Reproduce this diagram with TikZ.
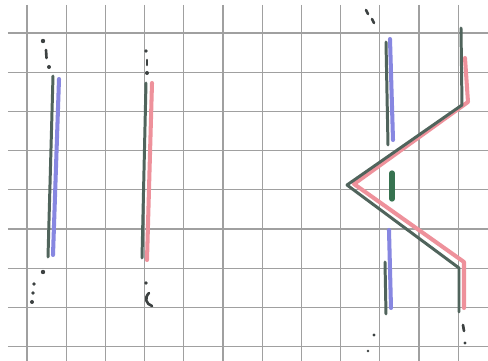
\documentclass[tikz,border=0pt]{standalone}
\begin{document}
\begin{tikzpicture}[x=0.02cm,y=-0.02cm,
  gridline/.style={draw={rgb,255:red,160;green,160;blue,160},line width=0.7pt},
  bluestroke/.style={draw={rgb,255:red,135;green,135;blue,225},line width=2.3pt,line cap=round},
  redstroke/.style={draw={rgb,255:red,238;green,145;blue,155},line width=2.3pt,line cap=round,line join=round},
  darkstroke/.style={draw={rgb,255:red,80;green,100;blue,92},line width=1.7pt,line cap=round,line join=round},
  greenbar/.style={draw={rgb,255:red,55;green,115;blue,80},line width=3pt,line cap=round},
  dotmark/.style={fill={rgb,255:red,60;green,65;blue,65}},
  dashmark/.style={draw={rgb,255:red,60;green,65;blue,65},line width=1.5pt,line cap=round}]
\useasboundingbox (0,0) rectangle (488,361);
\fill[white] (0,0) rectangle (488,361);
% grid paper
\foreach \i in {0,...,11} \draw[gridline] ({27+39.2*\i},5) -- ({27+39.2*\i},361);
\foreach \j in {0,...,8} \draw[gridline] (8,{33+39.2*\j}) -- (488,{33+39.2*\j});
% left pair
\draw[bluestroke] (59,79) -- (53,255);
\draw[darkstroke] (53,76) -- (48,257);
\fill[dotmark] (43,41) circle (2.2);
\draw[dashmark] (46,50) -- (46.5,58);
\fill[dotmark] (49,67) circle (2);
\fill[dotmark] (43,272) circle (2.2);
\fill[dotmark] (34,284) circle (1.8);
\fill[dotmark] (33,293) circle (1.8);
\fill[dotmark] (32,302) circle (2);
% middle pair
\draw[redstroke] (152,83) -- (147,260);
\draw[darkstroke] (146,83) -- (142,258);
\fill[dotmark] (146,51) circle (1.8);
\draw[dashmark] (147,60) -- (147,65);
\fill[dotmark] (147,73) circle (2);
\fill[dotmark] (146,283) circle (1.8);
\draw[dashmark] (149,293) .. controls (144,298) and (146,304) .. (152,306);
% right group
\draw[bluestroke] (390,39) -- (393,140);
\draw[darkstroke] (386,42) -- (388,145);
\draw[greenbar] (392,173) -- (392,199);
\draw[bluestroke] (389,230) -- (391,308);
\draw[darkstroke] (385,262) -- (386,314);
\draw[redstroke] (465,58) -- (468,102) -- (354,184) -- (464,262) -- (464,308);
\draw[darkstroke] (461,28) -- (462,105) -- (347,185) -- (459,268) -- (459,312);
\draw[dashmark] (366,10) -- (368,14);
\draw[dashmark] (372,19) -- (374,23);
\fill[dotmark] (374,335) circle (1.6);
\fill[dotmark] (368,351) circle (1.4);
\draw[dashmark] (463,325) -- (464,331);
\fill[dotmark] (465,343) circle (1.6);
\end{tikzpicture}
\end{document}
